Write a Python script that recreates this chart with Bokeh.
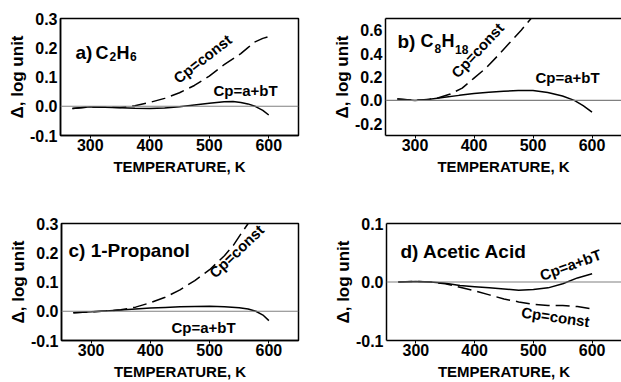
from bokeh.plotting import figure
from bokeh.models import Range1d, FixedTicker, PrintfTickFormatter, Span, LinearAxis
from bokeh.layouts import column, row
from bokeh.core.properties import value
from bokeh.embed import file_html
from bokeh.resources import INLINE

# ---------------- data ----------------
x_ticks = [300, 400, 500, 600]

# a) C2H6
a_T_lin = [270, 300, 325, 350, 375, 400, 425, 450, 475, 500, 525, 540, 553, 565, 578, 590, 600]
a_lin = [-0.008, -0.002, -0.003, -0.005, -0.007, -0.008, -0.006, -0.002, 0.004, 0.010, 0.015, 0.016, 0.013, 0.008, -0.001, -0.014, -0.030]
a_T_const = [270, 300, 325, 350, 375, 400, 425, 450, 475, 500, 525, 553, 566, 575, 590, 600]
a_const = [-0.008, -0.002, -0.003, -0.004, 0.002, 0.013, 0.027, 0.046, 0.071, 0.103, 0.142, 0.180, 0.202, 0.218, 0.232, 0.238]
a_yticks = [-0.1, 0.0, 0.1, 0.2, 0.3]

# b) C8H18
b_T_lin = [270, 300, 325, 350, 375, 400, 425, 450, 475, 500, 525, 550, 570, 585, 600]
b_lin = [0.011, 0.0, 0.010, 0.026, 0.043, 0.058, 0.070, 0.078, 0.084, 0.085, 0.068, 0.037, 0.0, -0.045, -0.100]
b_T_const = [270, 300, 320, 340, 360, 380, 400, 420, 440, 460, 480, 500]
b_const = [0.011, 0.002, 0.006, 0.022, 0.055, 0.105, 0.190, 0.275, 0.380, 0.490, 0.600, 0.720]
b_yticks = [-0.2, 0.0, 0.2, 0.4, 0.6]

# c) 1-Propanol
c_T_lin = [270, 300, 325, 350, 375, 400, 425, 450, 475, 500, 525, 550, 565, 578, 590, 600]
c_lin = [-0.005, -0.002, 0.001, 0.004, 0.008, 0.011, 0.013, 0.015, 0.016, 0.017, 0.015, 0.012, 0.008, 0.0, -0.013, -0.032]
c_T_const = [270, 300, 325, 350, 375, 400, 425, 450, 475, 500, 525, 540, 553, 565, 575]
c_const = [-0.005, -0.002, 0.001, 0.005, 0.014, 0.029, 0.048, 0.073, 0.105, 0.142, 0.190, 0.225, 0.265, 0.300, 0.330]
c_yticks = [-0.1, 0.0, 0.1, 0.2, 0.3]

# d) Acetic Acid
d_T_lin = [270, 300, 325, 350, 375, 400, 425, 450, 475, 500, 525, 550, 575, 600]
d_lin = [0.0, 0.001, 0.0, -0.002, -0.006, -0.008, -0.010, -0.012, -0.014, -0.013, -0.010, -0.003, 0.007, 0.014]
d_T_const = [270, 300, 325, 350, 375, 400, 425, 450, 475, 500, 525, 550, 575, 600]
d_const = [0.0, 0.001, 0.0, -0.003, -0.009, -0.015, -0.022, -0.029, -0.034, -0.038, -0.040, -0.040, -0.042, -0.046]
d_yticks = [-0.1, 0.0, 0.1]

FONT = value("Liberation Sans")


def make_panel(width, height, left, right, top, bottom, yr, yticks, full_outline):
    p = figure(width=width, height=height, x_range=Range1d(250, 650), y_range=Range1d(*yr),
               output_backend="svg", toolbar_location=None,
               min_border_left=left, min_border_right=right,
               min_border_top=top, min_border_bottom=bottom)
    p.xgrid.visible = False
    p.ygrid.visible = False
    p.background_fill_color = "white"
    p.border_fill_color = "white"
    xa = p.below[0]
    ya = p.left[0]
    if full_outline:
        p.outline_line_color = "black"
        p.outline_line_width = 1.5
        p.outline_line_alpha = 1.0
    else:
        p.outline_line_color = None
        top_ax = LinearAxis(ticker=FixedTicker(ticks=[]), major_label_text_font_size="0px",
                            major_tick_line_color=None, minor_tick_line_color=None,
                            axis_line_width=1.5, axis_line_color="black")
        p.add_layout(top_ax, "above")
    xa.ticker = FixedTicker(ticks=x_ticks)
    xa.axis_label = "TEMPERATURE, K"
    xa.axis_label_text_font = "Liberation Sans"
    xa.axis_label_text_font_style = "bold"
    xa.axis_label_text_font_size = "15px"
    xa.axis_label_text_color = "black"
    xa.axis_label_standoff = 4
    xa.major_label_text_font = "Liberation Sans"
    xa.major_label_text_font_style = "bold"
    xa.major_label_text_font_size = "16px"
    xa.major_label_text_color = "black"
    xa.major_label_standoff = 0
    xa.major_tick_out = 3
    xa.major_tick_in = 0
    xa.minor_tick_line_color = None
    xa.axis_line_width = 1.5
    xa.axis_line_color = "black"
    ya.ticker = FixedTicker(ticks=yticks)
    ya.formatter = PrintfTickFormatter(format="%.1f")
    ya.axis_label = "Δ, log unit"
    ya.axis_label_text_font = "Liberation Sans"
    ya.axis_label_text_font_style = "bold"
    ya.axis_label_text_font_size = "17px"
    ya.axis_label_text_color = "black"
    ya.axis_label_standoff = 0
    ya.major_label_text_font = "Liberation Sans"
    ya.major_label_text_font_style = "bold"
    ya.major_label_text_font_size = "16px"
    ya.major_label_text_color = "black"
    ya.major_label_standoff = 3
    ya.major_tick_out = 0
    ya.major_tick_in = 0
    ya.minor_tick_line_color = None
    ya.axis_line_width = 1.5
    ya.axis_line_color = "black"
    p.add_layout(Span(location=0, dimension="width", line_color="#808080", line_width=1.2))
    return p


def px(frame, yr, sx, sy):
    """window pixel -> data coordinates for annotation placement"""
    fx0, fy0, fw, fh = frame
    x = 250 + (sx - fx0) / fw * 400
    y = yr[1] - (sy - fy0) / fh * (yr[1] - yr[0])
    return x, y


def put_text(p, frame, yr, sx, sy, txt, size, align="left", baseline="alphabetic", angle=0):
    x, y = px(frame, yr, sx, sy)
    p.text(x=[x], y=[y], text=[txt], text_font=FONT, text_font_style="bold",
           text_font_size=size, text_align=align, text_baseline=baseline,
           angle=angle, angle_units="deg", text_color="black")


def curves(p, T1, v1, T2, v2):
    p.line(T2, v2, line_color="black", line_width=1.5, line_dash="14 6")
    p.line(T1, v1, line_color="black", line_width=1.5)


# panel a
fa = (60, 16, 238, 119); ya_r = (-0.1, 0.3)
pa = make_panel(310, 191, 60, 12, 16, 56, ya_r, a_yticks, True)
curves(pa, a_T_lin, a_lin, a_T_const, a_const)
put_text(pa, fa, ya_r, 75, 51, "a)", "19px")
put_text(pa, fa, ya_r, 95, 51, "C", "18px")
put_text(pa, fa, ya_r, 109, 55, "2", "12px")
put_text(pa, fa, ya_r, 116, 51, "H", "18px")
put_text(pa, fa, ya_r, 129.5, 55, "6", "12px")
put_text(pa, fa, ya_r, 202, 57, "Cp=const", "15px", "center", "middle", 38)
put_text(pa, fa, ya_r, 245, 89, "Cp=a+bT", "15px", "center", "middle")

# panel b
fb = (385, 18, 236, 118); yb_r = (-0.3, 0.7)
pb = make_panel(311, 191, 75, 0, 18, 55, yb_r, b_yticks, False)
curves(pb, b_T_lin, b_lin, b_T_const, b_const)
put_text(pb, fb, yb_r, 397, 41, "b)", "19px")
put_text(pb, fb, yb_r, 420, 41, "C", "18px")
put_text(pb, fb, yb_r, 434, 48, "8", "12px")
put_text(pb, fb, yb_r, 441, 41, "H", "18px")
put_text(pb, fb, yb_r, 454.5, 49, "18", "12px")
put_text(pb, fb, yb_r, 477, 50, "Cp=const", "15px", "center", "middle", 47)
put_text(pb, fb, yb_r, 567, 77, "Cp=a+bT", "15px", "center", "middle")

# panel c
fc = (61, 223, 237, 118); yc_r = (-0.1, 0.3)
pc = make_panel(310, 191, 61, 12, 32, 41, yc_r, c_yticks, True)
curves(pc, c_T_lin, c_lin, c_T_const, c_const)
put_text(pc, fc, yc_r, 68, 250, "c) 1-Propanol", "19px")
put_text(pc, fc, yc_r, 236, 251, "Cp=const", "15px", "center", "middle", 44)
put_text(pc, fc, yc_r, 203, 328, "Cp=a+bT", "15px", "center", "middle")

# panel d
fd = (386, 223, 235, 119); yd_r = (-0.1, 0.1)
pd = make_panel(311, 191, 76, 0, 32, 40, yd_r, d_yticks, False)
curves(pd, d_T_lin, d_lin, d_T_const, d_const)
put_text(pd, fd, yd_r, 400, 251, "d) Acetic Acid", "19px")
put_text(pd, fd, yd_r, 570, 265, "Cp=a+bT", "15px", "center", "middle", 20)
put_text(pd, fd, yd_r, 555, 318, "Cp=const", "15px", "center", "middle", -8)

layout = column(row(pa, pb), row(pc, pd))
open("out.html", "w").write(file_html(layout, INLINE))
